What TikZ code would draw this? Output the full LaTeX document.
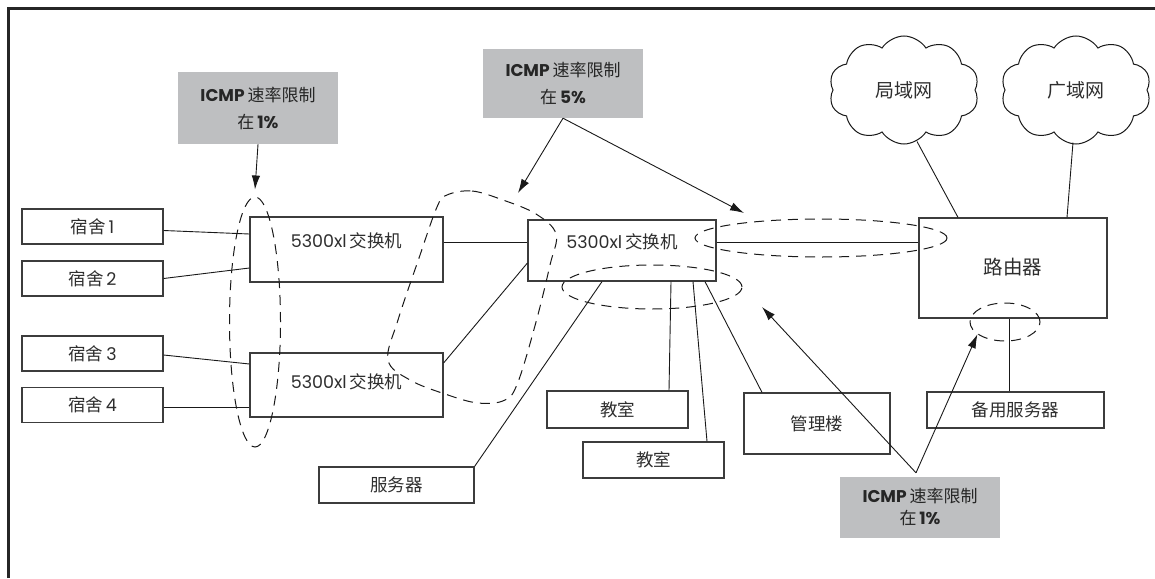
\documentclass[tikz,border=0pt]{standalone}
\usepackage{fontspec}
\setmainfont{Noto Sans CJK SC}
\newfontfamily\lat{Poppins}
\usetikzlibrary{arrows.meta,shapes.symbols,shapes.geometric}
\definecolor{notegray}{HTML}{BEBFC1}
\definecolor{edgegray}{HTML}{3C3C3C}
\definecolor{txt}{HTML}{2E2E2E}
\begin{document}
\begin{tikzpicture}[x=1pt,y=-1pt,
  box/.style={draw=edgegray,line width=1.2pt,inner sep=0pt,text=txt,font=\fontsize{17.5}{20}\selectfont},
  note/.style={fill=notegray,inner sep=0pt,align=center,text=black!85,font=\fontsize{17}{27}\selectfont},
  conn/.style={line width=0.9pt,draw=black!90},
  arr/.style={conn,-{Latex[length=14pt,width=8.5pt]}},
  dsh/.style={draw=black!90,line width=1pt,dash pattern=on 10pt off 7pt},
  ell/.style={dsh,ellipse,inner sep=0pt},
  cloudbox/.style={cloud,cloud puffs=10,cloud puff arc=115,aspect=1.4,draw=black!90,line width=1pt,
     minimum width=150pt,minimum height=108pt,inner sep=0pt,text=txt,font=\fontsize{19}{22}\selectfont}]
\useasboundingbox (0,0) rectangle (1155,578);
% frame
\draw[line width=3pt,draw=black!85] (8,578) -- (8,9) -- (1155,9);

% clouds
\node[cloudbox] (lan) at (904,90) {局域网};
\node[cloudbox] (wan) at (1076,90) {广域网};

% boxes
\node[box,minimum width=141pt,minimum height=35pt] (d1) at (92.5,226.5) {宿舍\,{\lat 1}};
\node[box,minimum width=141pt,minimum height=35pt] (d2) at (92.5,278.5) {宿舍\,{\lat 2}};
\node[box,minimum width=141pt,minimum height=35pt] (d3) at (92.5,353.5) {宿舍\,{\lat 3}};
\node[box,minimum width=141pt,minimum height=35pt] (d4) at (92.5,405) {宿舍\,{\lat 4}};

\node[box,minimum width=193pt,minimum height=65pt,label={[text=txt,font=\fontsize{17.5}{20}\selectfont,yshift=8.5pt]center:{\lat 5300xl}\,交换机}] (s1) at (346.5,249.5) {};
\node[box,minimum width=193pt,minimum height=64pt,label={[text=txt,font=\fontsize{17.5}{20}\selectfont,yshift=3pt]center:{\lat 5300xl}\,交换机}] (s2) at (346.5,385) {};
\node[box,minimum width=188pt,minimum height=61pt,label={[text=txt,font=\fontsize{17.5}{20}\selectfont,yshift=8.5pt]center:{\lat 5300xl}\,交换机}] (s3) at (622,250.5) {};

\node[box,minimum width=188pt,minimum height=100pt,font=\fontsize{19.5}{22}\selectfont] (rt) at (1013,268) {\raisebox{4pt}{路由器}};

\node[box,minimum width=155pt,minimum height=36pt] (srv) at (396.5,485) {服务器};
\node[box,minimum width=141pt,minimum height=37pt] (c1) at (617.5,409.5) {教室};
\node[box,minimum width=141pt,minimum height=36pt] (c2) at (653.5,460) {教室};
\node[box,minimum width=146pt,minimum height=61pt] (mg) at (817,423.5) {管理楼};
\node[box,minimum width=177pt,minimum height=36pt] (bk) at (1015.5,410) {备用服务器};

% notes
\node[note,minimum width=160pt,minimum height=72pt] (n1) at (258,108) {{\lat\bfseries ICMP}\,速率限制\\在\,{\lat\bfseries 1\%}};
\node[note,minimum width=160pt,minimum height=69pt] (n2) at (563,83.5) {{\lat\bfseries ICMP}\,速率限制\\在\,{\lat\bfseries 5\%}};
\node[note,minimum width=160pt,minimum height=61pt] (n3) at (920,507.5) {\raisebox{-3pt}{{\lat\bfseries ICMP}\,速率限制}\\\raisebox{2pt}{在\,{\lat\bfseries 1\%}}};

% connectors
\draw[conn] ([yshift=-4pt]d1.east) -- ([yshift=15.5pt]s1.west);
\draw[conn] (d2.east) -- ([yshift=-18.5pt]s1.west);
\draw[conn] ([yshift=-1.5pt]d3.east) -- ([yshift=21pt]s2.west);
\draw[conn] ([yshift=-2pt]d4.east) -- ([yshift=-22pt]s2.west);
\draw[conn] ([yshift=7.5pt]s1.east) -- ([yshift=8.5pt]s3.west);
\draw[conn] ([yshift=22pt]s2.east) -- ([yshift=-12.5pt]s3.west);
\draw[conn] ([yshift=8.5pt]s3.east) -- ([yshift=26pt]rt.west);
\draw[conn] (srv.north east) -- ([xshift=-20pt]s3.south);
\draw[conn] ([xshift=51.5pt]c1.north) -- ([xshift=49pt]s3.south);
\draw[conn] ([xshift=53.5pt]c2.north) -- ([xshift=71pt]s3.south);
\draw[conn] ([xshift=-55pt]mg.north) -- ([xshift=83pt]s3.south);
\draw[conn] ([xshift=-6.5pt]bk.north) -- ([xshift=-4pt]rt.south);
\draw[conn] ([xshift=13pt,yshift=3pt]lan.south) -- ([xshift=-55pt]rt.north);
\draw[conn] ([xshift=-3pt,yshift=2pt]wan.south) -- ([xshift=54pt]rt.north);

% dashed groups
\node[ell,minimum width=51pt,minimum height=250pt] (e1) at (255,322) {};
\node[ell,minimum width=252pt,minimum height=38pt] (e3) at (821,238) {};
\node[ell,minimum width=180pt,minimum height=44pt] (e4) at (652,287) {};
\node[ell,minimum width=70pt,minimum height=38pt] (e5) at (1005,322) {};
\draw[dsh] plot[smooth cycle,tension=0.6] coordinates {(447,195) (472,191) (503,200) (536,214) (556,234) (550,265) (536,322) (518,382) (505,400) (478,403) (445,394) (410,380) (388,360) (398,320) (419,258) (437,207)};

% arrows
\coordinate (t2a) at (518,193);
\coordinate (t2b) at (744,213);
\coordinate (t3a) at (762,307);
\draw[arr] (n1.south) -- ([yshift=7pt]e1.north);
\draw[arr] (n2.south) -- (t2a);
\draw[arr] (n2.south) -- (t2b);
\draw[arr] ([xshift=-4pt,yshift=4pt]n3.north) -- (t3a);
\draw[arr] ([xshift=-4pt,yshift=4pt]n3.north) -- (e5.204);
\end{tikzpicture}
\end{document}
